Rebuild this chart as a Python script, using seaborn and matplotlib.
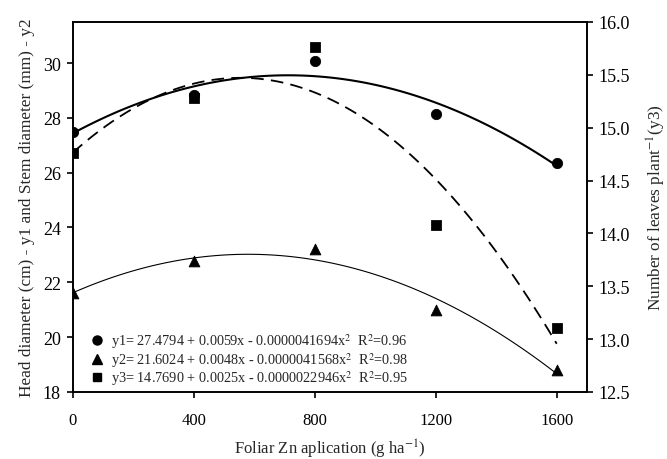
import numpy as np
import pandas as pd
import seaborn as sns
import matplotlib.pyplot as plt
from matplotlib.lines import Line2D

# values
zn_rate = [0, 400, 800, 1200, 1600]
head_diameter = [27.50, 28.83, 30.08, 28.13, 26.37]   # y1, left axis
stem_diameter = [21.61, 22.76, 23.22, 21.00, 18.80]   # y2, left axis
leaves_number = [14.76, 15.28, 15.76, 14.08, 13.10]   # y3, right axis

x_ticks = [0, 400, 800, 1200, 1600]
left_ticks = [18, 20, 22, 24, 26, 28, 30]
right_ticks = [12.5, 13.0, 13.5, 14.0, 14.5, 15.0, 15.5, 16.0]

eq_labels = [
    r"y1= 27.4794 + 0.0059x - 0.0000041694x$^2$  R$^2$=0.96",
    r"y2= 21.6024 + 0.0048x - 0.0000041568x$^2$  R$^2$=0.98",
    r"y3= 14.7690 + 0.0025x - 0.0000022946x$^2$  R$^2$=0.95",
]

df = pd.DataFrame({'Zn': zn_rate, 'y1': head_diameter,
                   'y2': stem_diameter, 'y3': leaves_number})

sns.set_style("ticks")
plt.rcParams['font.family'] = ['Liberation Serif', 'DejaVu Serif']
plt.rcParams['mathtext.fontset'] = 'stix'

fig, ax = plt.subplots(figsize=(6.67, 4.6), dpi=100)
fig.subplots_adjust(left=0.109, right=0.880, top=0.950, bottom=0.146)
ax2 = ax.twinx()

# quadratic fits
sns.regplot(data=df, x='Zn', y='y1', order=2, ci=None, scatter=False, ax=ax,
            line_kws=dict(color='black', linewidth=1.5))
sns.regplot(data=df, x='Zn', y='y2', order=2, ci=None, scatter=False, ax=ax,
            line_kws=dict(color='black', linewidth=0.8))
sns.regplot(data=df, x='Zn', y='y3', order=2, ci=None, scatter=False, ax=ax2,
            line_kws=dict(color='black', linewidth=1.3, dashes=(7, 4)))

# observed points
sns.scatterplot(data=df, x='Zn', y='y1', marker='o', s=55, color='black',
                edgecolor='black', ax=ax, zorder=5)
sns.scatterplot(data=df, x='Zn', y='y2', marker='^', s=60, color='black',
                edgecolor='black', ax=ax, zorder=5)
sns.scatterplot(data=df, x='Zn', y='y3', marker='s', s=50, color='black',
                edgecolor='black', ax=ax2, zorder=5)

ax.set_xlim(0, 1700)
ax.set_ylim(18, 31.5)
ax2.set_ylim(12.5, 16.0)
ax.set_xticks(x_ticks)
ax.set_yticks(left_ticks)
ax2.set_yticks(right_ticks)
ax2.set_yticklabels([f"{t:.1f}" for t in right_ticks])

for a in (ax, ax2):
    for sp in a.spines.values():
        sp.set_visible(True)
        sp.set_linewidth(1.2)
        sp.set_color('black')
    a.tick_params(direction='out', length=4.5, width=1.2, colors='black')
ax.tick_params(axis='x', labelsize=12, pad=10)
ax.tick_params(axis='y', labelsize=13, pad=4)
ax2.tick_params(axis='y', labelsize=13, pad=4)

ax.set_xlabel(r"Foliar Zn aplication (g ha$^{-1}$)", fontsize=12, labelpad=6.5)
ax.set_ylabel("Head diameter (cm) - y1 and Stem diameter (mm) - y2", fontsize=12.4,
              labelpad=6)
ax2.set_ylabel(r"Number of leaves plant$^{-1}$(y3)", fontsize=12.4, labelpad=10.5)

handles = [Line2D([], [], marker=m, color='black', linestyle='none', markersize=ms)
           for m, ms in zip(['o', '^', 's'], [6.5, 7, 6])]
leg = ax.legend(handles, eq_labels, loc='lower left', frameon=False,
                fontsize=10.3, handlelength=1.0, handletextpad=0.5,
                labelspacing=0.0, borderpad=0, borderaxespad=0,
                bbox_to_anchor=(0.033, 0.012))

plt.savefig('out.png', dpi=100)
